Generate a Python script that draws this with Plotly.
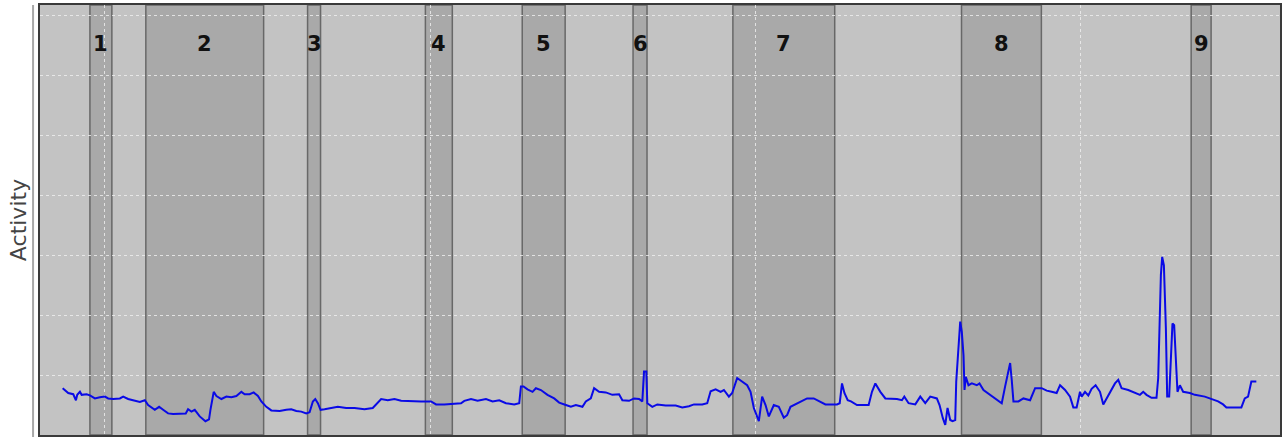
import plotly.graph_objects as go

# time (arbitrary units) and activity values
time = [22.7, 26.7, 28.3, 33.3, 36, 37.3, 40, 41.7, 46.7, 50, 55, 60, 65, 68.3, 73.3, 80, 83.3, 88.3, 95, 100,
        105, 108.3, 115, 119.3, 123.3, 128.3, 133.3, 140, 146, 148.3, 151.7, 155, 160, 165.7, 169.3, 170.7, 172.7, 174, 176.7, 181.7,
        186.7, 191.7, 196.7, 201.7, 205, 210, 214, 218.3, 221.7, 226.7, 231.7, 240, 246.7,
        251.7, 256.7, 261.7, 266.7, 270, 273.3, 275.7, 278.3, 281, 285, 291.7, 298.3, 303.3, 306.7, 315, 325, 333.3, 336.7,
        341.7, 348.3, 355, 361.7, 371.7, 381.7, 391.7, 396.7, 405, 411.7, 421.7, 425, 431.7, 438.3, 446.7, 453.3, 460, 466.7,
        475, 480, 481.7, 484.3, 488.3, 493.3,
        496.7, 501.7, 508.3, 515, 520, 526.7, 531.7, 536.7, 543.3, 546.7, 551.7, 555, 560, 566.7, 573.3, 580, 583.3, 590, 595,
        600, 603.3, 605, 607.3, 608.3, 613.3, 618.3, 626.7, 636.7, 643.3, 650, 655, 663.3, 668.3, 671.7, 676.7, 681.7, 685,
        690, 693.3, 698.3, 703.3, 708.3, 711.7, 715, 720, 723.3, 726.7, 730, 735, 740,
        745, 748.3, 751.7, 758.3, 765, 768.3, 775, 781.7, 786.7, 798.3, 801, 803.3, 805.7, 809, 812.3, 818.3, 830, 833.3,
        836.7, 841.7, 846.7, 858.3, 863.3, 865.7, 870, 876.7, 881.7, 886.7, 891.7, 898.3, 901, 904.3, 906.7, 909, 911.7, 914,
        916.7, 917.7, 920, 921.7, 923.3, 925, 926, 927.3, 930, 933.3, 938.3, 941, 945, 951.7, 958.3, 963.3, 966.7, 970, 971.7,
        973.3, 975, 980, 985,
        991.7, 996.7, 1003.3, 1008.3, 1013.3, 1018.3, 1021.7, 1026.7, 1031.7, 1035, 1038.3, 1041.7, 1043.3, 1046.7, 1050,
        1053.3, 1057.3, 1061.7, 1065, 1068.3, 1073.3, 1076.7, 1080, 1083.3, 1090, 1096.7, 1101.7, 1105, 1108.3, 1113.3, 1118.3,
        1120, 1122.7, 1124, 1125.7, 1127.7, 1129, 1131, 1132.7, 1134.3, 1136, 1137.7, 1139.3, 1141.7, 1145, 1151.7, 1156.7,
        1166.7, 1173.3, 1180, 1185, 1188.3, 1203.3, 1206.7, 1210, 1213.3, 1218.3]

activity = [0.78, 0.72, 0.70, 0.68, 0.58, 0.67, 0.72, 0.67, 0.68, 0.66, 0.61, 0.63, 0.64, 0.61, 0.60, 0.61, 0.64, 0.60, 0.57, 0.55,
            0.58, 0.50, 0.42, 0.47, 0.42, 0.36, 0.35, 0.35, 0.36, 0.43, 0.39, 0.42, 0.31, 0.23, 0.26, 0.42, 0.58, 0.72, 0.65, 0.60,
            0.64, 0.63, 0.65, 0.72, 0.68, 0.68, 0.71, 0.65, 0.56, 0.47, 0.41, 0.40, 0.42,
            0.43, 0.40, 0.39, 0.36, 0.38, 0.56, 0.60, 0.53, 0.42, 0.43, 0.45, 0.47, 0.46, 0.45, 0.45, 0.43, 0.45, 0.51,
            0.60, 0.58, 0.60, 0.57, 0.56, 0.56, 0.56, 0.51, 0.51, 0.52, 0.53, 0.57, 0.60, 0.57, 0.60, 0.56, 0.58, 0.53,
            0.51, 0.53, 0.81, 0.81, 0.76, 0.72,
            0.78, 0.75, 0.67, 0.61, 0.54, 0.50, 0.47, 0.50, 0.47, 0.56, 0.61, 0.78, 0.72, 0.71, 0.67, 0.68, 0.58, 0.57, 0.61,
            0.60, 0.56, 1.06, 1.06, 0.53, 0.47, 0.51, 0.49, 0.49, 0.46, 0.48, 0.51, 0.51, 0.53, 0.73, 0.76, 0.72, 0.75,
            0.64, 0.70, 0.95, 0.89, 0.83, 0.72, 0.45, 0.23, 0.64, 0.50, 0.31, 0.50, 0.47,
            0.29, 0.33, 0.47, 0.53, 0.58, 0.61, 0.61, 0.56, 0.51, 0.51, 0.53, 0.86, 0.70, 0.58, 0.56, 0.50, 0.50, 0.72,
            0.86, 0.72, 0.61, 0.60, 0.58, 0.64, 0.53, 0.51, 0.64, 0.53, 0.64, 0.61, 0.50, 0.28, 0.17, 0.45, 0.25, 0.23,
            0.25, 0.89, 1.50, 1.89, 1.72, 1.33, 0.75, 0.97, 0.83, 0.86, 0.83, 0.86, 0.75, 0.67, 0.58, 0.53, 0.81, 1.06, 1.20,
            0.92, 0.56, 0.56, 0.61,
            0.58, 0.78, 0.78, 0.74, 0.72, 0.70, 0.83, 0.75, 0.64, 0.46, 0.46, 0.72, 0.64, 0.72, 0.66,
            0.77, 0.83, 0.72, 0.51, 0.61, 0.78, 0.86, 0.92, 0.78, 0.75, 0.71, 0.67, 0.72, 0.67, 0.62, 0.62,
            0.95, 2.67, 2.97, 2.83, 1.78, 0.64, 0.64, 1.39, 1.86, 1.83, 1.22, 0.72, 0.83, 0.72, 0.70, 0.67,
            0.64, 0.60, 0.56, 0.51, 0.46, 0.46, 0.61, 0.64, 0.89, 0.89]

# highlighted periods
band_labels = ["1", "2", "3", "4", "5", "6", "7", "8", "9"]
band_start = [50, 106, 268, 386, 483, 594, 694, 923, 1153]
band_end = [72, 224, 281, 413, 526, 608, 796, 1003, 1173]

x_grid = [65, 390.7, 716.3, 1042]
y_grid = [1, 2, 3, 4, 5, 6, 7]
x_range = [0, 1242]
y_range = [0, 7.17]
label_y = 6.52

fig = go.Figure()

fig.add_trace(go.Scatter(x=time, y=activity, mode="lines",
                         line=dict(color="#0a0ae6", width=2), showlegend=False))

for s, e, lab in zip(band_start, band_end, band_labels):
    fig.add_shape(type="rect", xref="x", yref="paper", x0=s, x1=e, y0=0, y1=1,
                  fillcolor="rgba(90,90,90,0.25)", line=dict(color="rgba(95,95,95,0.9)", width=1.5),
                  layer="between")
    fig.add_annotation(x=(s + e) / 2, y=label_y, xref="x", yref="y", text="<b>" + lab + "</b>", showarrow=False,
                       font=dict(family="DejaVu Sans", size=21, color="#111111"))

# detached axis line left of the plot
fig.add_shape(type="line", xref="paper", yref="paper", x0=-0.0056, x1=-0.0056, y0=-0.01, y1=1.0,
              line=dict(color="#a8a8a8", width=2))

fig.update_layout(
    width=1284, height=437,
    margin=dict(l=40, r=2, t=5, b=2),
    paper_bgcolor="white", plot_bgcolor="#c3c3c3",
    font=dict(family="DejaVu Sans"),
    showlegend=False,
)
fig.update_xaxes(range=x_range, tickvals=x_grid, showticklabels=False, ticks="",
                 showgrid=True, gridcolor="rgba(240,240,240,0.8)", griddash="3px,3px", gridwidth=1,
                 zeroline=False, showline=True, mirror=True, linecolor="#3a3a3a", linewidth=2)
fig.update_yaxes(range=y_range, tickvals=y_grid, showticklabels=False, ticks="",
                 showgrid=True, gridcolor="rgba(240,240,240,0.8)", griddash="3px,3px", gridwidth=1,
                 zeroline=False, showline=True, mirror=True, linecolor="#3a3a3a", linewidth=2,
                 title=dict(text="Activity", font=dict(family="DejaVu Sans", size=22, color="#444444"), standoff=5))

fig.write_html("out.html", config={"displayModeBar": False},
               post_script="document.body.style.margin='0';document.body.style.overflow='hidden';")
